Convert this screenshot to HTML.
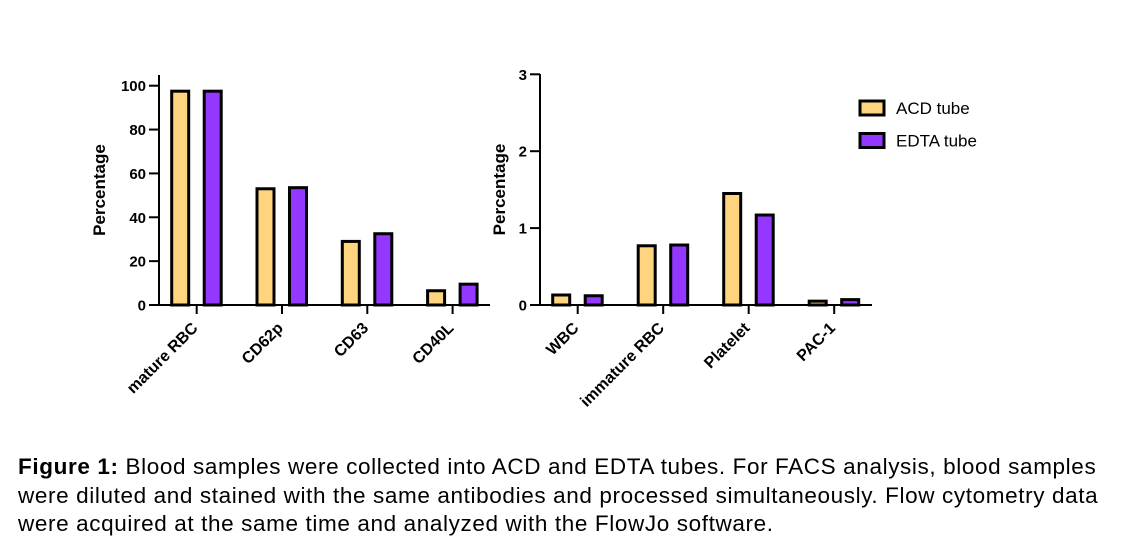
<!DOCTYPE html>
<html><head><meta charset="utf-8"><style>
body{margin:0;background:#fff;width:1126px;height:556px;overflow:hidden;font-family:"Liberation Sans",Arial,sans-serif}
#cap{position:absolute;left:18px;top:453px;font-size:22.5px;letter-spacing:0.62px;line-height:28.5px;color:#000;white-space:nowrap}
</style></head><body>
<svg id="chart" width="1126" height="440" style="position:absolute;left:0;top:0" font-family="Liberation Sans, Arial, sans-serif"></svg>
<div id="cap"><b>Figure 1:</b> Blood samples were collected into ACD and EDTA tubes. For FACS analysis, blood samples<br>were diluted and stained with the same antibodies and processed simultaneously. Flow cytometry data<br>were acquired at the same time and analyzed with the FlowJo software.</div>
<script>
const leftCategories=["mature RBC","CD62p","CD63","CD40L"];
const leftACD=[97.5,53,29,6.5];
const leftEDTA=[97.5,53.5,32.5,9.5];
const leftTicks=[0,20,40,60,80,100];
const rightCategories=["WBC","immature RBC","Platelet","PAC-1"];
const rightACD=[0.13,0.77,1.45,0.05];
const rightEDTA=[0.12,0.78,1.17,0.07];
const rightTicks=[0,1,2,3];
const seriesNames=["ACD tube","EDTA tube"];
const colors=["#FFD47F","#9437FF"];
const svg=document.getElementById('chart');
const NS='http://www.w3.org/2000/svg';
function mk(t,a){const e=document.createElementNS(NS,t);for(const k in a)e.setAttribute(k,a[k]);svg.appendChild(e);return e;}
function panel(o){
  const y=v=>o.y0-(v-o.min)/(o.max-o.min)*(o.y0-o.yTop);
  const x=i=>o.firstTick+i*o.step;
  [o.a,o.b].forEach((arr,s)=>{arr.forEach((v,i)=>{
    const cx=x(i)+(s?16:-16.5);
    const r=mk('rect',{x:cx-8.5,y:y(v),width:17,height:o.y0-y(v),fill:colors[s],stroke:'#000','stroke-width':3});
    
    
  });});
  let l=mk('line',{x1:o.ax,y1:o.axTop,x2:o.ax,y2:o.y0,stroke:'#000','stroke-width':2});
  
  l=mk('line',{x1:o.ax-10,y1:o.y0,x2:o.xEnd,y2:o.y0,stroke:'#000','stroke-width':2});
  
  o.ticks.forEach(t=>{
    const tl=mk('line',{x1:o.ax-10,y1:y(t),x2:o.ax,y2:y(t),stroke:'#000','stroke-width':2});
    
    const tx=mk('text',{x:o.ax-13,y:y(t)+5.5,'text-anchor':'end','font-size':15,'font-weight':'bold'});
    tx.textContent=t;
  });
  o.cats.forEach((c,i)=>{
    const tl=mk('line',{x1:x(i),y1:o.y0,x2:x(i),y2:o.y0+9,stroke:'#000','stroke-width':2});
    
    const ax=x(i)+2, ay=o.y0+24;
    const tx=mk('text',{x:ax,y:ay,'text-anchor':'end','font-size':16,'font-weight':'bold',transform:`rotate(-45 ${ax} ${ay})`});
    tx.textContent=c;
  });
  const tx0=o.ax-o.titleOff, ty0=(o.y0+o.axTop)/2;
  const yt=mk('text',{x:tx0,y:ty0,'text-anchor':'middle','font-size':17,'font-weight':'bold',transform:`rotate(-90 ${tx0} ${ty0})`});
  yt.textContent='Percentage';
}
panel({id:'left',cats:leftCategories,a:leftACD,b:leftEDTA,ticks:leftTicks,min:0,max:100,y0:305,yTop:85.7,axTop:75,ax:159,xEnd:490,firstTick:196.7,step:85.3,titleOff:54});
panel({id:'right',cats:rightCategories,a:rightACD,b:rightEDTA,ticks:rightTicks,min:0,max:3,y0:305,yTop:74.3,axTop:74,ax:540,xEnd:872,firstTick:577.7,step:85.5,titleOff:35});
seriesNames.forEach((n,s)=>{
  const r=mk('rect',{x:860,y:101+s*32.5,width:24,height:14,fill:colors[s],stroke:'#000','stroke-width':3});
  
  const t=mk('text',{x:896,y:114+s*32.5,'font-size':17});
  t.textContent=n;
});
</script>
</body></html>
